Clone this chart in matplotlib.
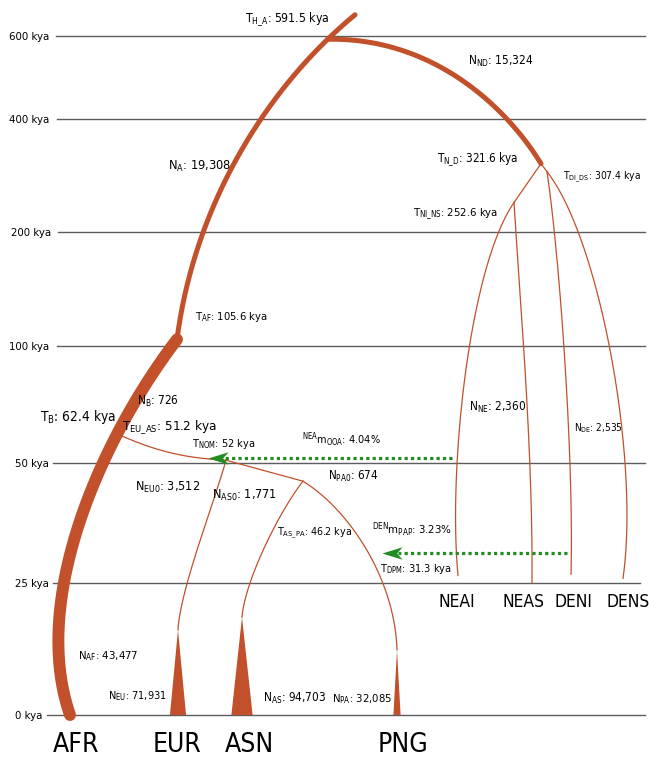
import matplotlib
matplotlib.use("Agg")
import matplotlib.pyplot as plt
import numpy as np
from matplotlib.path import Path

W, H = 649, 763

# time axis: tick values (kya) and the pixel row of each gridline
tick_kya = [0, 25, 50, 100, 200, 400, 600]
tick_row = [715, 582.7, 463, 345.7, 232.3, 119.3, 35.7]
grid_from = [47, 53, 53, 57, 58, 57, 56]
grid_to = [645, 640, 645, 645, 645, 645, 645]
tick_right = [42, 49, 49, 49, 51, 49, 49]

# split / pulse times, kya
event_names = ["H_A", "N_D", "DI_DS", "NI_NS", "AF", "B", "NOM", "EU_AS", "AS_PA", "DPM"]
event_kya = [591.5, 321.6, 307.4, 252.6, 105.6, 62.4, 52.0, 51.2, 46.2, 31.3]

# effective population sizes
size_names = ["A", "ND", "AF", "B", "EU0", "AS0", "PA0", "NE", "DE", "EU", "AS", "PA"]
size_values = [19308, 15324, 43477, 726, 3512, 1771, 674, 2360, 2535, 71931, 94703, 32085]

# admixture pulses, percent
pulse_names = ["NEA_OOA", "DEN_PAP"]
pulse_pct = [4.04, 3.23]

# sampled lineages
archaic = ["NEAI", "NEAS", "DENI", "DENS"]
archaic_kya = [26.5, 25.0, 26.8, 25.9]
modern = ["AFR", "EUR", "ASN", "PNG"]
growth_kya = [16.1, 18.5, 12.3]     # EUR, ASN, PNG expansion onset
root_kya = 650

E = dict(zip(event_names, event_kya))
N = dict(zip(size_names, size_values))
P = dict(zip(pulse_names, pulse_pct))
A = dict(zip(archaic, archaic_kya))

ORANGE = "#c1502b"
GREEN = "#228b22"
GRID = "#5c5c5c"

plt.rcParams["font.family"] = ["DejaVu Sans"]
plt.rcParams["font.stretch"] = "condensed"
plt.rcParams["mathtext.fontset"] = "custom"
plt.rcParams["mathtext.rm"] = "DejaVu Sans:stretch=condensed"
plt.rcParams["mathtext.it"] = "DejaVu Sans:italic:stretch=condensed"
plt.rcParams["mathtext.bf"] = "DejaVu Sans:bold:stretch=condensed"


def _pw(x, xp, fp):
    # piecewise linear with linear extrapolation at both ends
    x = np.asarray(x, float)
    y = np.interp(x, xp, fp)
    y = np.where(x < xp[0], fp[0] + (x - xp[0]) * (fp[1] - fp[0]) / (xp[1] - xp[0]), y)
    y = np.where(x > xp[-1], fp[-1] + (x - xp[-1]) * (fp[-1] - fp[-2]) / (xp[-1] - xp[-2]), y)
    return y


tick_h = [H - r for r in tick_row]


def fwd(t):
    return _pw(t, tick_kya, tick_h)


def inv(h):
    return _pw(h, tick_h, tick_kya)


def row(t):
    return float(H - fwd(t))


def at_row(r):
    return inv(H - np.asarray(r, float))


fig = plt.figure(figsize=(W / 100, H / 100), dpi=100)
ax = fig.add_axes([0, 0, 1, 1])
ax.set_yscale("function", functions=(fwd, inv))
ax.axis("off")


def curve(x0, t0, x1, t1, d0=(0, 0), d1=(0, 0), n=150):
    # cubic bezier between two nodes, handles given as pixel offsets
    r0, r1 = row(t0), row(t1)
    p = np.array([[x0, r0], [x0 + d0[0], r0 + d0[1]],
                  [x1 + d1[0], r1 + d1[1]], [x1, r1]])
    s = np.linspace(0, 1, n)[:, None]
    b = (1 - s) ** 3 * p[0] + 3 * (1 - s) ** 2 * s * p[1] + 3 * (1 - s) * s ** 2 * p[2] + s ** 3 * p[3]
    return b[:, 0], at_row(b[:, 1])


def x_at(xs, ts, t):
    o = np.argsort(ts)
    return float(np.interp(t, ts[o], xs[o]))


# gridlines
for t, a, b in zip(tick_kya, grid_from, grid_to):
    ax.plot([a, b], [t, t], color=GRID, lw=1.0, zorder=1)

# ancestral human lineage up to the root
anc_x, anc_t = curve(177, E["AF"], 355, root_kya, (18, -139), (-85, 70))
ax.plot(anc_x, anc_t, color=ORANGE, lw=3.6, solid_capstyle="round", zorder=3)

# African lineage
afr_x, afr_t = curve(177, E["AF"], 70, 0, (-77, 101), (-40, -115))
ax.plot(afr_x, afr_t, color=ORANGE, lw=8.6, solid_capstyle="round", zorder=3)

# Neanderthal / Denisovan ancestor
hx = x_at(anc_x, anc_t, E["H_A"])
nd_x, nd_t = curve(hx, E["H_A"], 541, E["N_D"], (105, -2), (-35, -57))
ax.plot(nd_x, nd_t, color=ORANGE, lw=3.6, solid_capstyle="round", zorder=3)

thin = dict(color=ORANGE, lw=0.9, zorder=3)
ax.plot([541, 514], [E["N_D"], E["NI_NS"]], **thin)
ax.plot([541, 547], [E["N_D"], E["DI_DS"]], **thin)
neai = curve(514, E["NI_NS"], 458, A["NEAI"], (-45, 65), (-10, -106))
neas = curve(514, E["NI_NS"], 532, A["NEAS"], (6, 97), (1, -133))
deni = curve(547, E["DI_DS"], 571, A["DENI"], (13, 88), (3, -113))
dens = curve(547, E["DI_DS"], 623, A["DENS"], (53, 68), (17, -118))
for xs, ts in (neai, neas, deni, dens):
    ax.plot(xs, ts, **thin)

# out-of-Africa lineages
bx = x_at(afr_x, afr_t, E["B"])
nb = curve(bx, E["B"], 226, E["EU_AS"], (40, 18), (-40, -2))
eur = curve(226, E["EU_AS"], 178, growth_kya[0], (-11, 40), (2, -40))
asn = curve(303, E["AS_PA"], 242, growth_kya[1], (-23, 29), (3, -37))
png = curve(303, E["AS_PA"], 397, growth_kya[2], (47, 29), (-2, -70))
for xs, ts in (nb, eur, asn, png):
    ax.plot(xs, ts, **thin)
ax.plot([226, 303], [E["EU_AS"], E["AS_PA"]], **thin)

# recent expansions, base width follows the present-day size
for x, g, n in zip([178, 242, 397], growth_kya, [N["EU"], N["AS"], N["PA"]]):
    hw = n * 1.12e-4
    ax.fill([x - hw, x, x + hw], [0, g, 0], color=ORANGE, lw=0, zorder=3)

# admixture pulses
head = Path([(-1, 0), (1, 0.62), (0.45, 0), (1, -0.62), (-1, 0)],
            [Path.MOVETO, Path.LINETO, Path.LINETO, Path.LINETO, Path.CLOSEPOLY])


def pulse(x_from, x_to, t):
    ax.plot([x_from, x_to + 16], [t, t], color=GREEN, lw=2.3, ls=(0, (1, 1)), zorder=4)
    ax.plot([x_to + 10], [t], marker=head, ms=14.5, color=GREEN, mew=0, zorder=4)


pulse(x_at(*neai, E["NOM"]) - 5, x_at(*nb, E["NOM"]) + 6, E["NOM"])
pulse(x_at(*deni, E["DPM"]) - 4, x_at(*png, E["DPM"]) + 14, E["DPM"])

ax.set_xlim(0, W)
ax.set_ylim(float(at_row(H)), float(at_row(0)))


# labels
def sub(base, s):
    return base + r"$_{\mathrm{" + s.replace("_", r"\_") + "}}$"


def pre(top, base, s):
    return r"${}^{\mathrm{" + top + r"}}\mathrm{" + base + r"}_{\mathrm{" + s + "}}$"


def kya(name):
    return f"{sub('T', name)}: {E[name]:g} kya"


def size(name):
    return f"{sub('N', name)}: {N[name]:,}"


def label(x, r, s, fs, ha="left"):
    base = r + 0.36 * fs / 0.72
    ax.text(x / W, 1 - base / H, s, transform=ax.transAxes, fontsize=fs,
            ha=ha, va="baseline", zorder=5)


for t, r, xr in zip(tick_kya, tick_row, tick_right):
    label(xr, r, f"{t} kya", 8.2, ha="right")

labels = [
    (kya("H_A"), 245, 18, 8.8),
    (size("ND"), 468, 61, 8.6),
    (size("A"), 168, 165, 9.2),
    (kya("N_D"), 437, 158, 8.4),
    (kya("DI_DS"), 563, 176, 7.4),
    (kya("NI_NS"), 413, 212, 8.1),
    (kya("AF"), 195, 316, 8.0),
    (kya("B"), 40, 416, 9.8),
    (size("B"), 137, 401, 8.5),
    (kya("EU_AS"), 122, 425, 9.6),
    (kya("NOM"), 192, 443, 7.8),
    (pre("NEA", "m", "OOA") + f": {P['NEA_OOA']:.2f}%", 302, 440, 7.8),
    (size("NE"), 469, 407, 8.5),
    (size("DE"), 574, 428, 7.2),
    (size("EU0"), 135, 486, 9.0),
    (size("AS0"), 212, 494, 9.1),
    (size("PA0"), 328, 476, 8.4),
    (kya("AS_PA"), 277, 532, 7.7),
    (pre("DEN", "m", "PAP") + f": {P['DEN_PAP']:.2f}%", 372, 530, 8.2),
    (kya("DPM"), 380, 568, 7.8),
    (size("AF"), 78, 655, 8.2),
    (size("EU"), 108, 695, 7.8),
    (size("AS"), 263, 698, 8.5),
    (size("PA"), 332, 698, 8.1),
]
for s, x, r, fs in labels:
    label(x, r, s, fs)

for name, x in zip(archaic, [438, 503, 555, 607]):
    label(x, 601, name, 12.5)
for name, x in zip(modern, [53, 153, 225, 378]):
    label(x, 742, name, 19)

fig.savefig("out.png", dpi=100)
